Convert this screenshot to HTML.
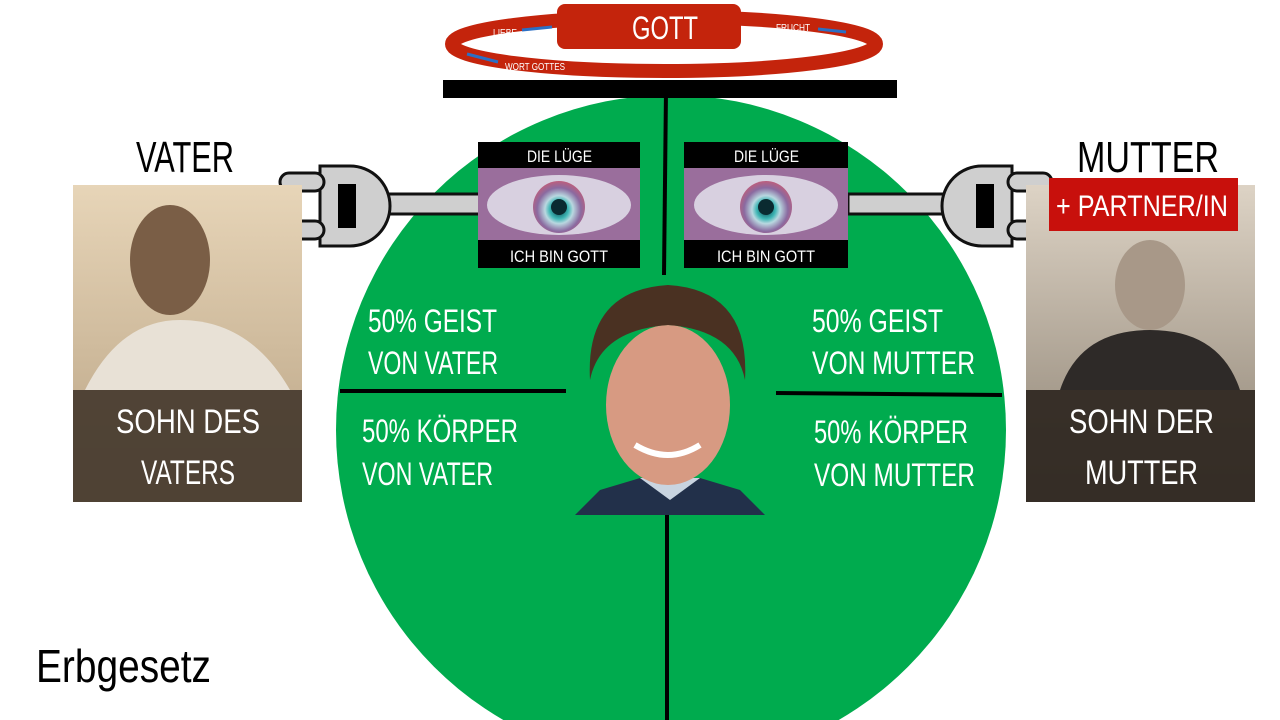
<!DOCTYPE html>
<html><head><meta charset="utf-8"><style>
body{margin:0;width:1280px;height:720px;overflow:hidden;background:#fff}
svg{display:block}
text{font-family:"Liberation Sans",sans-serif}
</style></head><body>
<svg width="1280" height="720" viewBox="0 0 1280 720" style="overflow:hidden">
<defs>
<radialGradient id="eye" cx="50%" cy="55%" r="60%">
<stop offset="0" stop-color="#0a3a40"/><stop offset="0.12" stop-color="#1a6b70"/><stop offset="0.3" stop-color="#3fb6b5"/><stop offset="0.45" stop-color="#b9d8e0"/><stop offset="0.7" stop-color="#8a6aa0"/><stop offset="1" stop-color="#d05a70"/></radialGradient>
<linearGradient id="sep" x1="0" y1="0" x2="0" y2="1"><stop offset="0" stop-color="#e7d5b8"/><stop offset="1" stop-color="#b8a283"/></linearGradient>
<linearGradient id="sep2" x1="0" y1="0" x2="0" y2="1"><stop offset="0" stop-color="#ddd3c5"/><stop offset="1" stop-color="#8a7f70"/></linearGradient>
</defs>
<circle cx="671" cy="430" r="335" fill="#00ab4e"/>
<line x1="666" y1="90" x2="664" y2="275" stroke="#000" stroke-width="4"/>
<line x1="667" y1="510" x2="667" y2="720" stroke="#000" stroke-width="4"/>
<line x1="340" y1="391" x2="566" y2="391" stroke="#000" stroke-width="4"/>
<line x1="776" y1="393" x2="1002" y2="395" stroke="#000" stroke-width="4"/>
<rect x="443" y="80" width="454" height="18" fill="#000"/>
<!-- halo -->
<ellipse cx="664" cy="44" rx="212" ry="27" fill="none" stroke="#c4240c" stroke-width="14"/>
<rect x="557" y="4" width="184" height="45" rx="8" fill="#c4240c"/>
<text x="632" y="39" font-size="32" fill="#fff" textLength="66" lengthAdjust="spacingAndGlyphs">GOTT</text>
<text x="493" y="36" font-size="10" fill="#fff" textLength="24" lengthAdjust="spacingAndGlyphs">LIEBE</text>
<text x="776" y="31" font-size="10" fill="#fff" textLength="34" lengthAdjust="spacingAndGlyphs">FRUCHT</text>
<text x="505" y="70" font-size="10" fill="#fff" textLength="60" lengthAdjust="spacingAndGlyphs">WORT GOTTES</text>
<line x1="552" y1="27" x2="522" y2="30" stroke="#2b6fc4" stroke-width="3"/>
<line x1="846" y1="32" x2="818" y2="29" stroke="#2b6fc4" stroke-width="3"/>
<line x1="467" y1="54" x2="498" y2="62" stroke="#2b6fc4" stroke-width="3"/>
<!-- plugs -->
<g stroke="#111" stroke-width="3" fill="#cfcfcf">
<rect x="370" y="194" width="112" height="20"/>
<path d="M320 166 H350 A40 40 0 0 1 350 246 H320 Z"/>
<rect x="280" y="173" width="44" height="18" rx="9"/>
<rect x="280" y="221" width="44" height="18" rx="9"/>
<rect x="848" y="194" width="100" height="20"/>
<path d="M1012 166 H982 A40 40 0 0 0 982 246 H1012 Z"/>
<rect x="1008" y="173" width="44" height="18" rx="9"/>
<rect x="1008" y="221" width="44" height="18" rx="9"/>
</g>
<rect x="338" y="184" width="18" height="44" fill="#000"/>
<rect x="976" y="184" width="18" height="44" fill="#000"/>
<!-- eye boxes -->
<rect x="478" y="142" width="162" height="126" fill="#000"/>
<rect x="478" y="168" width="162" height="72" fill="#9a6e9c"/>
<ellipse cx="559" cy="205" rx="72" ry="30" fill="#d8d0e0"/>
<circle cx="559" cy="207" r="26" fill="url(#eye)"/>
<circle cx="559" cy="207" r="8" fill="#0a2a30"/>
<text x="527" y="162" font-size="17" fill="#fff" textLength="65" lengthAdjust="spacingAndGlyphs">DIE LÜGE</text>
<text x="510" y="262" font-size="17" fill="#fff" textLength="98" lengthAdjust="spacingAndGlyphs">ICH BIN GOTT</text>
<rect x="684" y="142" width="164" height="126" fill="#000"/>
<rect x="684" y="168" width="164" height="72" fill="#9a6e9c"/>
<ellipse cx="766" cy="205" rx="72" ry="30" fill="#d8d0e0"/>
<circle cx="766" cy="207" r="26" fill="url(#eye)"/>
<circle cx="766" cy="207" r="8" fill="#0a2a30"/>
<text x="734" y="162" font-size="17" fill="#fff" textLength="65" lengthAdjust="spacingAndGlyphs">DIE LÜGE</text>
<text x="717" y="262" font-size="17" fill="#fff" textLength="98" lengthAdjust="spacingAndGlyphs">ICH BIN GOTT</text>
<!-- green texts -->
<g font-size="32" fill="#fff">
<text x="368" y="332" textLength="129" lengthAdjust="spacingAndGlyphs">50% GEIST</text>
<text x="368" y="374" textLength="130" lengthAdjust="spacingAndGlyphs">VON VATER</text>
<text x="362" y="442" textLength="156" lengthAdjust="spacingAndGlyphs">50% KÖRPER</text>
<text x="362" y="485" textLength="131" lengthAdjust="spacingAndGlyphs">VON VATER</text>
<text x="812" y="332" textLength="131" lengthAdjust="spacingAndGlyphs">50% GEIST</text>
<text x="812" y="374" textLength="163" lengthAdjust="spacingAndGlyphs">VON MUTTER</text>
<text x="814" y="443" textLength="154" lengthAdjust="spacingAndGlyphs">50% KÖRPER</text>
<text x="814" y="486" textLength="161" lengthAdjust="spacingAndGlyphs">VON MUTTER</text>
</g>
<!-- face -->
<path d="M575 515 L600 490 L640 478 L700 478 L740 490 L765 515 Z" fill="#22304a"/>
<path d="M640 478 L670 500 L700 478 Z" fill="#c9d4e0"/>
<ellipse cx="668" cy="405" rx="62" ry="80" fill="#d79a82"/>
<path d="M590 380 Q585 290 668 285 Q750 290 745 380 Q735 330 668 325 Q600 330 590 380 Z" fill="#4a3122"/>
<path d="M635 445 Q668 465 700 445" stroke="#fff" stroke-width="6" fill="none"/>
<!-- photos -->
<rect x="73" y="185" width="229" height="317" fill="url(#sep)"/>
<ellipse cx="170" cy="260" rx="40" ry="55" fill="#7a5e46"/>
<path d="M85 390 Q120 320 180 320 Q250 320 290 390 Z" fill="#e8e1d6"/>
<rect x="73" y="390" width="229" height="112" fill="#453a2e" opacity="0.92"/>
<text x="116" y="433" font-size="34" fill="#fff" textLength="144" lengthAdjust="spacingAndGlyphs">SOHN DES</text>
<text x="141" y="484" font-size="34" fill="#fff" textLength="94" lengthAdjust="spacingAndGlyphs">VATERS</text>
<rect x="1026" y="185" width="229" height="317" fill="url(#sep2)"/>
<ellipse cx="1150" cy="285" rx="35" ry="45" fill="#a89888"/>
<path d="M1060 390 Q1080 330 1150 330 Q1220 330 1240 390 Z" fill="#2e2a28"/>
<rect x="1026" y="390" width="229" height="112" fill="#2e2620" opacity="0.92"/>
<text x="1069" y="433" font-size="34" fill="#fff" textLength="145" lengthAdjust="spacingAndGlyphs">SOHN DER</text>
<text x="1085" y="484" font-size="34" fill="#fff" textLength="113" lengthAdjust="spacingAndGlyphs">MUTTER</text>
<rect x="1049" y="178" width="189" height="53" fill="#c8100c"/>
<text x="1056" y="216" font-size="30" fill="#fff" textLength="172" lengthAdjust="spacingAndGlyphs">+ PARTNER/IN</text>
<text x="136" y="172" font-size="44" fill="#000" textLength="98" lengthAdjust="spacingAndGlyphs">VATER</text>
<text x="1077" y="172" font-size="44" fill="#000" textLength="142" lengthAdjust="spacingAndGlyphs">MUTTER</text>
<text x="36" y="682" font-size="46" fill="#000" textLength="175" lengthAdjust="spacingAndGlyphs">Erbgesetz</text>
</svg>
</body></html>
